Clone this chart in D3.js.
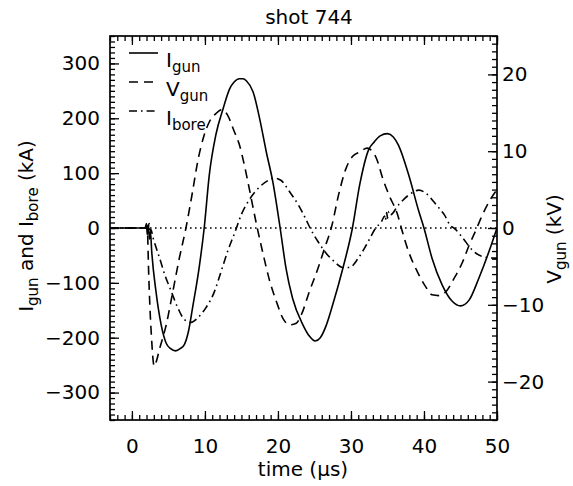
<!DOCTYPE html>
<html><head><meta charset="utf-8">
<script src="https://cdn.jsdelivr.net/npm/d3@7"></script>
<style>body{margin:0;background:#fff} text{font-family:"DejaVu Sans",sans-serif;fill:#000}</style>
</head><body><svg id="c" width="573" height="486"></svg>
<script>
// ---- data ----
const titleText = "shot 744";
const xDomain = [-3, 50];
const yLeftDomain = [-350, 350];
const yRightDomain = [-25, 25];
const xTicks = [0, 10, 20, 30, 40, 50];
const yLeftTicks = [-300, -200, -100, 0, 100, 200, 300];
const yRightTicks = [-20, -10, 0, 10, 20];

// I_gun (kA)
const tGun = [-3, 1.8, 2.0, 2.1, 2.25, 2.4, 2.55, 2.7, 3.3, 4.0, 4.7, 5.3, 6.0, 6.6, 7.2, 7.8, 8.3, 9.2, 9.9, 10.6, 11.5, 12.5, 13.4, 14.0, 14.7, 15.2, 15.7, 16.6, 17.5, 18.4, 19.3, 20.3, 21.1, 22.0, 23.4, 24.3, 25.1, 25.8, 26.6, 27.5, 28.9, 30.2, 31.2, 32.4, 33.2, 34.0, 35.0, 35.8, 36.5, 37.9, 39.3, 40.0, 41.1, 42.5, 43.9, 45.0, 46.2, 47.5, 48.9, 50];
const iGun = [0, 0, 8, -12, 6, -20, -8, -40, -116, -176, -210, -220, -224, -220, -212, -185, -146, -73, 0, 97, 170, 218, 254, 266, 272, 272, 268, 248, 199, 139, 84, 0, -73, -128, -176, -197, -206, -200, -178, -140, -73, 0, 79, 142, 157, 168, 172, 166, 151, 97, 30, 0, -55, -104, -134, -142, -131, -92, -43, 0];

// V_gun (kV)
const tV = [-3, 2.1, 2.3, 2.5, 2.7, 2.9, 3.05, 3.3, 3.8, 4.7, 5.6, 6.5, 7.4, 8.3, 9.0, 9.9, 10.6, 11.5, 12.3, 13.1, 14.0, 14.7, 15.4, 16.1, 17.1, 17.9, 18.9, 19.8, 20.7, 21.6, 22.5, 23.2, 24.3, 25.5, 26.4, 27.3, 28.4, 29.3, 30.2, 31.2, 32.2, 33.0, 33.6, 34.3, 35.2, 36.4, 36.9, 37.9, 39.1, 40.2, 41.1, 42.0, 43.0, 44.1, 45.3, 46.2, 47.1, 48.0, 48.9, 50];
const vGun = [0, 0, -6, -11, -14.5, -17.2, -18, -17.5, -15.7, -12.6, -8.3, -3.9, 0, 4.7, 8.6, 12.1, 13.8, 14.9, 15.4, 14.7, 12.6, 10.9, 8.2, 5.0, 0.3, -3.1, -7.0, -9.6, -11.8, -12.6, -12.4, -11.3, -8.3, -5.2, -2.6, 0, 4.7, 7.7, 9.3, 9.9, 10.4, 9.9, 8.8, 6.6, 4.3, 1.7, 0, -3.1, -5.7, -7.6, -8.7, -8.8, -8.3, -6.6, -4.4, -2.2, -0.3, 1.7, 3.4, 5.0];

// I_bore (kA)
const tBore = [-3, 2.2, 2.35, 2.5, 2.6, 2.9, 3.8, 4.5, 5.4, 6.3, 7.2, 8.1, 9.0, 10.1, 11.3, 12.2, 13.1, 14.1, 15.0, 16.1, 17.5, 18.7, 19.5, 20.4, 21.6, 22.8, 23.9, 24.4, 25.5, 26.6, 27.7, 28.9, 29.8, 31.0, 32.1, 33.4, 34.2, 34.6, 34.7, 34.9, 35.0, 35.2, 35.4, 36.5, 37.9, 39.3, 40.3, 41.7, 42.8, 43.7, 44.1, 45.3, 46.6, 48.0, 49.6, 50];
const iBore = [0, 0, 8, -10, -3, -18, -55, -85, -116, -146, -167, -172, -164, -146, -116, -80, -43, -8, 25, 52, 75, 87, 91, 87, 66, 42, 14, 0, -25, -46, -61, -72, -72, -55, -31, 0, 12, 22, 14, 28, 18, 30, 24, 42, 60, 69, 63, 42, 24, 3, 0, -18, -40, -52, -55, -55];

const legendLabels = [["I", "gun"], ["V", "gun"], ["I", "bore"]];

// ---- layout ----
const L = 110, R = 497, T = 36, B = 420;
const svg = d3.select("#c");
const x = d3.scaleLinear().domain(xDomain).range([L, R]);
const yL = d3.scaleLinear().domain(yLeftDomain).range([B, T]);
const yR = d3.scaleLinear().domain(yRightDomain).range([B, T]);
const fmt = d3.format("d");
const range = (a, b, s) => d3.range(a, b + s / 2, s);

svg.append("defs").append("clipPath").attr("id", "clip")
  .append("rect").attr("x", L).attr("y", T).attr("width", R - L).attr("height", B - T);

function styleAxis(g) {
  g.select(".domain").remove();
  g.selectAll("line").attr("stroke", "#000").attr("stroke-width", 1.3);
  g.selectAll("text").attr("font-size", 20).attr("font-family", "DejaVu Sans, sans-serif").attr("fill", "#000");
}
const MAJ = 9, MIN = 5;
// bottom
svg.append("g").attr("transform", `translate(0,${B})`)
  .call(d3.axisBottom(x).tickValues(range(-3, 50, 1)).tickSize(-MIN).tickFormat("")).call(styleAxis);
svg.append("g").attr("transform", `translate(0,${B})`)
  .call(d3.axisBottom(x).tickValues(xTicks).tickSize(-MAJ).tickPadding(19).tickFormat(fmt)).call(styleAxis);
// top
svg.append("g").attr("transform", `translate(0,${T})`)
  .call(d3.axisTop(x).tickValues(range(-3, 50, 1)).tickSize(-MIN).tickFormat("")).call(styleAxis);
svg.append("g").attr("transform", `translate(0,${T})`)
  .call(d3.axisTop(x).tickValues(xTicks).tickSize(-MAJ).tickFormat("")).call(styleAxis);
// left
svg.append("g").attr("transform", `translate(${L},0)`)
  .call(d3.axisLeft(yL).tickValues(range(-350, 350, 10)).tickSize(-MIN).tickFormat("")).call(styleAxis);
svg.append("g").attr("transform", `translate(${L},0)`)
  .call(d3.axisLeft(yL).tickValues(yLeftTicks).tickSize(-MAJ).tickPadding(10).tickFormat(fmt)).call(styleAxis);
// right
svg.append("g").attr("transform", `translate(${R},0)`)
  .call(d3.axisRight(yR).tickValues(range(-25, 25, 1)).tickSize(-MIN).tickFormat("")).call(styleAxis);
svg.append("g").attr("transform", `translate(${R},0)`)
  .call(d3.axisRight(yR).tickValues(yRightTicks).tickSize(-MAJ).tickPadding(5).tickFormat(fmt)).call(styleAxis);

// frame
svg.append("rect").attr("x", L).attr("y", T).attr("width", R - L).attr("height", B - T)
  .attr("fill", "none").attr("stroke", "#000").attr("stroke-width", 1.7);

const plot = svg.append("g").attr("clip-path", "url(#clip)");
// zero dotted line
plot.append("line").attr("x1", x(xDomain[0])).attr("x2", x(xDomain[1]))
  .attr("y1", yL(0)).attr("y2", yL(0)).attr("stroke", "#000").attr("stroke-width", 1.6)
  .attr("stroke-dasharray", "1.6,3.4");

const DASH = "9,6", DASHDOT = "8,4,1.6,4";
function drawLine(ts, vs, yScale, dash) {
  const pts = ts.map((t, i) => [t, vs[i]]);
  const line = d3.line().x(d => x(d[0])).y(d => yScale(d[1])).curve(d3.curveMonotoneX);
  plot.append("path").attr("d", line(pts)).attr("fill", "none").attr("stroke", "#000")
    .attr("stroke-width", 1.6).attr("stroke-dasharray", dash);
}
drawLine(tBore, iBore, yL, DASHDOT);
drawLine(tV, vGun, yR, DASH);
drawLine(tGun, iGun, yL, null);

// legend
const dashes = [null, DASH, DASHDOT];
const lineY = [53, 82, 111], textY = [67, 96, 125];
legendLabels.forEach((lab, i) => {
  svg.append("line").attr("x1", 129).attr("x2", 158).attr("y1", lineY[i]).attr("y2", lineY[i])
    .attr("stroke", "#000").attr("stroke-width", 1.6).attr("stroke-dasharray", dashes[i]);
  const t = svg.append("text").attr("x", 166).attr("y", textY[i]).attr("font-size", 20);
  t.append("tspan").text(lab[0]);
  t.append("tspan").attr("font-size", 15).attr("dy", 5).text(lab[1]);
});

// title
svg.append("text").attr("x", 309).attr("y", 24).attr("text-anchor", "middle").attr("font-size", 20).text(titleText);
// x title
const xt = svg.append("text").attr("x", 303).attr("y", 476).attr("text-anchor", "middle").attr("font-size", 20);
xt.append("tspan").text("time (");
xt.append("tspan").text("μ");
xt.append("tspan").text("s)");
// left y title
const lt = svg.append("text").attr("transform", "translate(33,226) rotate(-90)").attr("text-anchor", "middle").attr("font-size", 20);
lt.append("tspan").text("I");
lt.append("tspan").attr("font-size", 15).attr("dy", 5).text("gun");
lt.append("tspan").attr("dy", -5).text(" and I");
lt.append("tspan").attr("font-size", 15).attr("dy", 5).text("bore");
lt.append("tspan").attr("dy", -5).text(" (kA)");
// right y title
const rt = svg.append("text").attr("transform", "translate(561,239) rotate(-90)").attr("text-anchor", "middle").attr("font-size", 20);
rt.append("tspan").text("V");
rt.append("tspan").attr("font-size", 15).attr("dy", 5).text("gun");
rt.append("tspan").attr("dy", -5).text(" (kV)");
</script>
</body></html>
